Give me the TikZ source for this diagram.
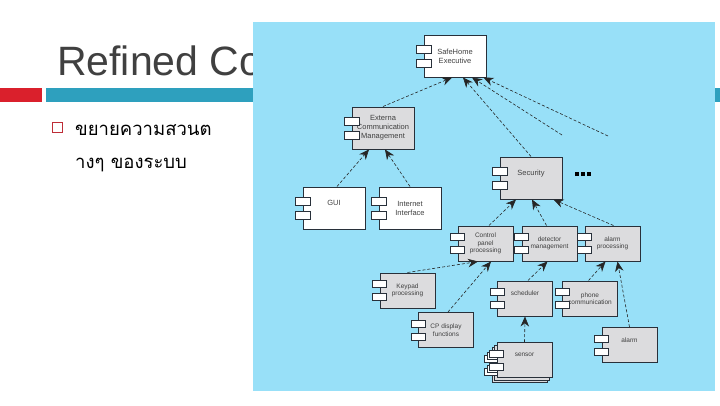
\documentclass[tikz,border=0pt]{standalone}
\usepackage{fontspec}
\setmainfont{Liberation Sans}
\newfontfamily\thaifont[Script=Thai]{Loma}
\usetikzlibrary{positioning, calc, arrows.meta}

\begin{document}
\begin{tikzpicture}[
    x=1pt, y=-1pt,
    comp/.style = {rectangle, draw=edge, fill=compgray, line width=1pt, minimum width=62pt, minimum height=42pt, inner sep=1pt, align=center, font=\fontsize{7.5}{9}\selectfont, text=black!75},
    plain/.style = {fill=white},
    small/.style = {minimum width=55pt, minimum height=35pt, font=\fontsize{6.5}{7.6}\selectfont},
    upper/.style = {text depth=10.5pt},
    tab/.style = {draw=edge, fill=white, line width=0.7pt},
    dep/.style = {draw=black!85, dash pattern=on 3pt off 2pt, line width=0.6pt, -{Stealth[length=10pt, width=8.5pt]}}
]
    % Colors definition
    \definecolor{titlegray}{RGB}{64, 64, 64}
    \definecolor{barred}{RGB}{218, 32, 44}
    \definecolor{barteal}{RGB}{46, 160, 190}
    \definecolor{boxred}{RGB}{190, 45, 55}
    \definecolor{imgblue}{RGB}{152, 224, 248}
    \definecolor{compgray}{RGB}{220, 220, 222}
    \definecolor{edge}{RGB}{40, 48, 58}

    \useasboundingbox [fill=white] (0,0) rectangle (720,405);

    % Slide
    \node (title) [anchor=base west, inner sep=0pt, text=titlegray, font=\fontsize{41}{49}\selectfont] at (57,75) {Refined Co};
    \fill [barred] (0,88) rectangle (42,102);
    \fill [barteal] (46,88) rectangle (720,102);
    \node (check) [draw=boxred, line width=1.3pt, minimum size=10.5pt, inner sep=0pt] at (57.5,127.5) {};
    \node (item1) [anchor=base west, inner sep=0pt, font=\thaifont\fontsize{18.5}{22}\selectfont] at (75,135) {ขยายความสวนต};
    \node (item2) [anchor=base west, inner sep=0pt, font=\thaifont\fontsize{18.5}{22}\selectfont] at (75,168) {างๆ ของระบบ};

    % Picture
    \fill [imgblue] (253,22) rectangle (715,391);

    % Nodes
    \node (exe) [comp, plain] at (455,56) {SafeHome\\Executive};
    \node (ext) [comp] at (383,128) {Externa\\Communication\\Management};
    \node (gui) [comp, plain, upper] at (334,208) {GUI};
    \node (inet) [comp, plain, right=13pt of gui] {Internet\\Interface};
    \node (sec) [comp, upper] at (531,178) {Security};
    \node (dots) [right=12pt of sec, yshift=4pt, inner sep=0pt] {\rule{4pt}{4pt}\hspace{2pt}\rule{4pt}{4pt}\hspace{2pt}\rule{4pt}{4pt}};

    \node (ctrl) [comp, small] at (485.5,243.5) {Control\\panel\\processing};
    \node (det) [comp, small, right=8pt of ctrl] {detector\\management};
    \node (alproc) [comp, small, right=7pt of det] {alarm\\processing};
    \node (key) [comp, small] at (407.5,290.5) {Keypad\\processing};
    \node (cpd) [comp, small] at (446,330) {CP display\\functions};
    \node (sched) [comp, small, upper] at (525,298.5) {scheduler};
    \node (phone) [comp, small, right=9pt of sched] {phone\\communication};
    \node (alarm) [comp, small, upper] at (629.5,345) {alarm};
    \node (sensorC) [comp, small] at (519.5,365) {};
    \node (sensorB) [comp, small] at (522,362.5) {};

    % Component tabs
    \foreach \n in {exe, ext, gui, inet, sec} {
        \draw [tab] ($(\n.west)+(-7,-11)$) rectangle ++(15,8);
        \draw [tab] ($(\n.west)+(-7,3)$) rectangle ++(15,8);
    }
    \foreach \n in {ctrl, det, alproc, key, cpd, sched, phone, alarm, sensorC, sensorB} {
        \draw [tab] ($(\n.west)+(-7,-10)$) rectangle ++(14,7);
        \draw [tab] ($(\n.west)+(-7,3)$) rectangle ++(14,7);
    }
    \node (sensor) [comp, small, upper] at (524.5,360) {sensor};
    \draw [tab] ($(sensor.west)+(-7,-10)$) rectangle ++(14,7);
    \draw [tab] ($(sensor.west)+(-7,3)$) rectangle ++(14,7);

    % Connections
    \coordinate (more1) at (562,135);
    \coordinate (more2) at (608,136);
    \draw [dep] (ext.north) -- ([xshift=-3pt]exe.south);
    \draw [dep] (sec.north) -- ([xshift=8pt]exe.south);
    \draw [dep] (more1) -- ([xshift=17pt]exe.south);
    \draw [dep] (more2) -- ([xshift=-3pt]exe.south east);

    \draw [dep] ([xshift=3pt]gui.north) -- ([xshift=-14pt]ext.south);
    \draw [dep] (inet.north) -- ([xshift=2pt]ext.south);

    \draw [dep] ([xshift=3.5pt]ctrl.north) -- ([xshift=-15pt]sec.south);
    \draw [dep] ([xshift=-3pt]det.north) -- ([xshift=1pt]sec.south);
    \draw [dep] ([xshift=1pt]alproc.north) -- ([xshift=-9pt]sec.south east);

    \draw [dep] (key.north) -- ([xshift=-7.5pt]ctrl.south);
    \draw [dep] ([xshift=2pt]cpd.north) -- ([xshift=5.5pt]ctrl.south);
    \draw [dep] ([xshift=3pt]sched.north) -- ([xshift=-2pt]det.south);
    \draw [dep] (sensor.north) -- (sched.south);
    \draw [dep] ([xshift=-1.5pt]phone.north) -- ([xshift=-7pt]alproc.south);
    \draw [dep] (alarm.north) -- ([xshift=5pt]alproc.south);

\end{tikzpicture}
\end{document}
